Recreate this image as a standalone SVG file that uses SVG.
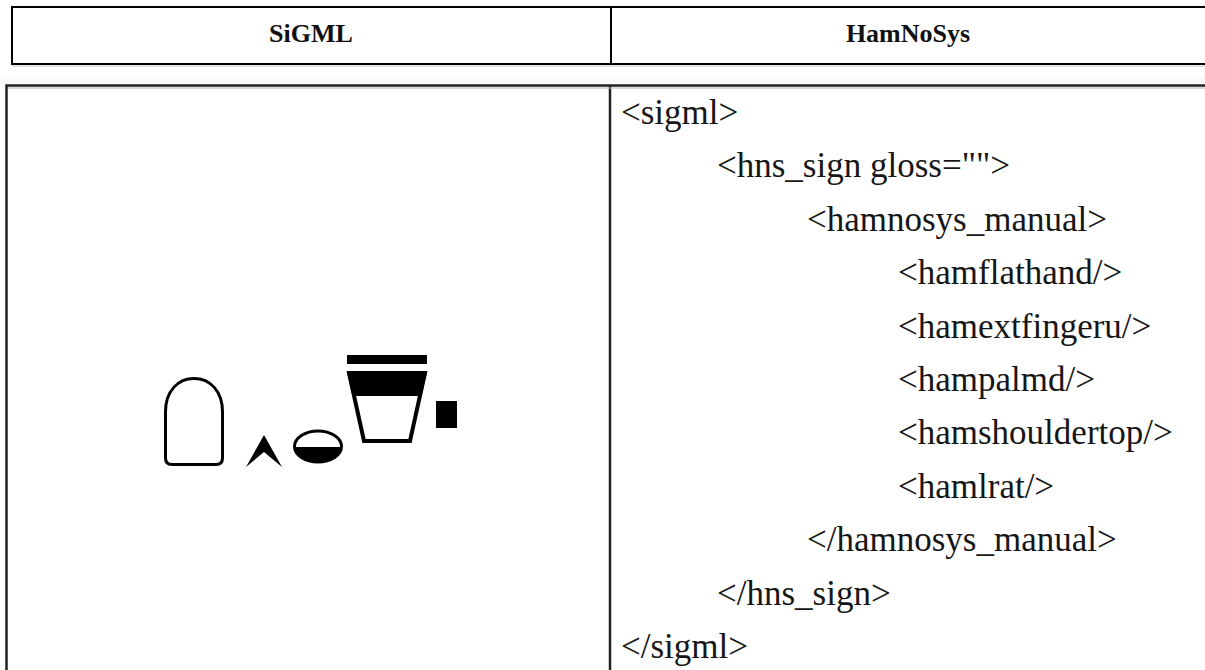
<svg xmlns="http://www.w3.org/2000/svg" width="1205" height="670" viewBox="0 0 1205 670">
  <style>
    .hdr { font-family: "Liberation Serif", "Times New Roman", serif; font-weight: bold; font-size: 26px; fill: #111; text-anchor: middle; }
    .code { font-family: "Liberation Serif", "Times New Roman", serif; font-size: 35px; fill: #161616; }
    .border { stroke: #000; stroke-width: 2; fill: none; }
    .border2 { stroke: #222; stroke-width: 2.5; fill: none; }
    .glyph { stroke: #000; stroke-width: 3; fill: none; }
  </style>
  <rect width="1205" height="670" fill="#fff"/>

  <g id="header-table">
    <path class="border" d="M1206,7 H12 V64 H1206 M611,7 V64"/>
    <line x1="12" y1="66" x2="1205" y2="66" stroke="#c8c8c8" stroke-width="1"/>
    <rect x="0" y="77" width="1205" height="6" fill="#f9f9f9"/>
    <g id="header-sigml"><text class="hdr" x="311" y="42">SiGML</text></g>
    <g id="header-hamnosys"><text class="hdr" x="908" y="42">HamNoSys</text></g>
  </g>

  <g id="body-table">
    <path class="border2" d="M1206,85.5 H6.5 V671 M610,85.5 V671"/>
    <line x1="8" y1="88" x2="1205" y2="88" stroke="#b0b0b0" stroke-width="1"/>
  </g>

  <g id="hamnosys-glyphs">
    <path class="glyph" d="M172,464.5 L216,464.5 Q222.5,464.5 222.5,458 L222.5,412 C222.5,391 210,378.5 194,378.5 C178,378.5 165.5,391 165.5,412 L165.5,458 Q165.5,464.5 172,464.5 Z"/>
    <polygon points="246,467 264,435 282,467 264,452" fill="#000"/>
    <path d="M294.5,447 A23.5,15.5 0 0 0 341.5,447 Z" fill="#000"/>
    <ellipse class="glyph" cx="318" cy="446.5" rx="23.5" ry="15.5"/>
    <rect x="347" y="355" width="80" height="9" fill="#000"/>
    <polygon points="347,372 427,372 421.5,396 352.5,396" fill="#000"/>
    <polygon points="349,373 425,373 410,441 364,441" fill="none" stroke="#000" stroke-width="4" stroke-linejoin="miter"/>
    <rect x="436" y="401" width="21" height="27" fill="#000"/>
  </g>

  <g id="sigml-code">
    <text class="code" x="621" y="124">&lt;sigml&gt;</text>
    <text class="code" x="717" y="177">&lt;hns_sign gloss=""&gt;</text>
    <text class="code" x="807" y="231">&lt;hamnosys_manual&gt;</text>
    <text class="code" x="898" y="284">&lt;hamflathand/&gt;</text>
    <text class="code" x="898" y="338">&lt;hamextfingeru/&gt;</text>
    <text class="code" x="898" y="391">&lt;hampalmd/&gt;</text>
    <text class="code" x="898" y="444">&lt;hamshouldertop/&gt;</text>
    <text class="code" x="898" y="498">&lt;hamlrat/&gt;</text>
    <text class="code" x="807" y="551">&lt;/hamnosys_manual&gt;</text>
    <text class="code" x="717" y="605">&lt;/hns_sign&gt;</text>
    <text class="code" x="621" y="658">&lt;/sigml&gt;</text>
  </g>
</svg>
